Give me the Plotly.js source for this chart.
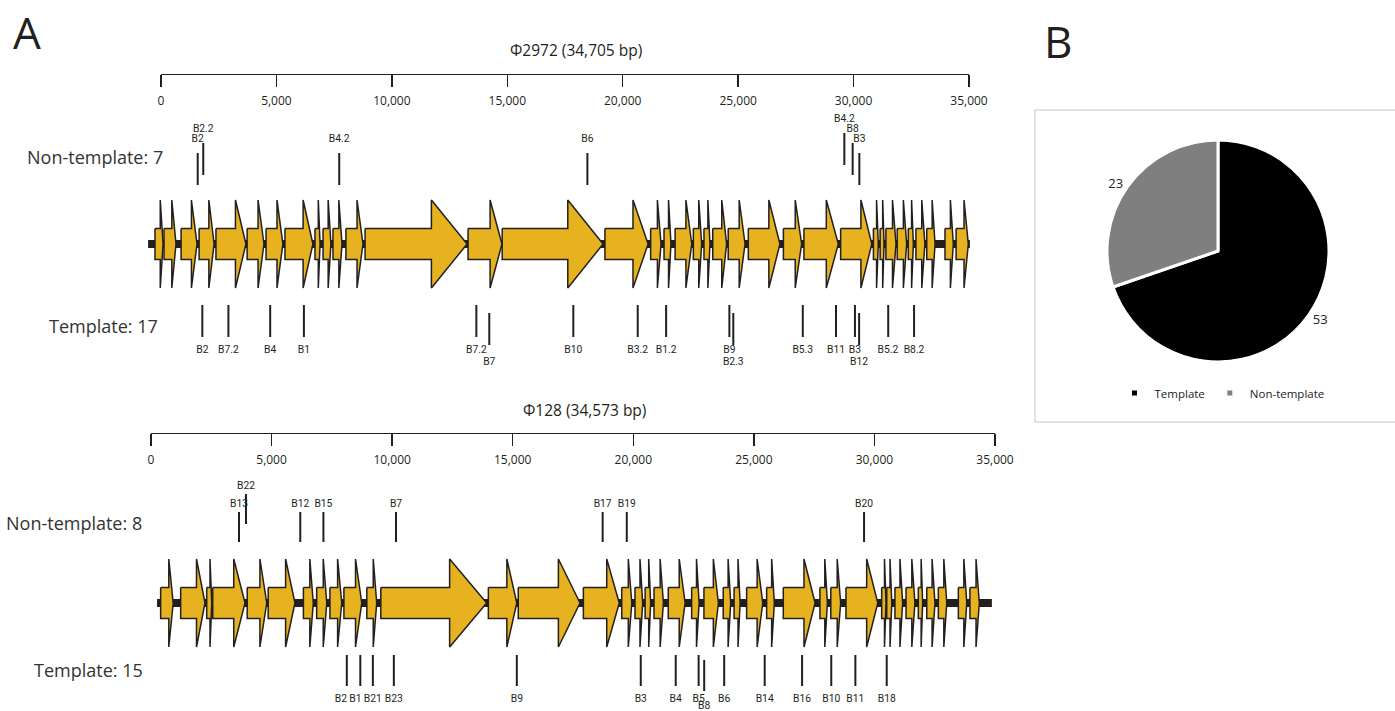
<!DOCTYPE html>
<html><head><meta charset="utf-8">
<script src="https://cdn.plot.ly/plotly-3.0.1.min.js"></script>
<style>html,body{margin:0;padding:0;background:#fff}#chart{width:1395px;height:711px}</style>
</head><body><div id="chart"></div>
<script>
// ---------------- DATA ----------------
const phageNames = ['Φ2972', 'Φ128'];
const genomeLengths = [34705, 34573];
const backbone2972 = [-560, 35040];
const backbone128 = [250, 34870];

const phi2972GeneStart = [-260,130,870,1650,2380,3730,4550,5370,6670,7020,7450,8010,8840,13300,14780,19230,21210,21790,22270,23060,23520,23900,24570,25440,26960,27850,29440,30860,31150,31400,31890,32370,32700,33170,33960,34440];
const phi2972GeneEnd   = [90,650,1560,2300,3680,4460,5280,6580,6890,7360,7840,8750,13260,14770,19150,21100,21660,22090,22990,23420,23780,24500,25300,26810,27750,29340,30790,31070,31320,31840,32300,32590,33090,33530,34320,34970];

const phi128GeneStart = [400,1230,2310,2560,3990,4860,6320,6870,7420,8000,8950,9530,13990,15230,17930,19520,20070,20490,20860,21450,22420,22930,23730,24180,24700,25530,26220,27740,28190,28820,30300,30510,30850,31310,31820,32170,32650,33480,33960];
const phi128GeneEnd   = [920,2240,2520,3900,4800,5970,6730,7290,7910,8740,9360,13920,15170,17790,19420,19940,20390,20720,21250,22150,22730,23530,24040,24430,25370,25850,27540,28050,28600,30140,30480,30720,31170,31680,32000,32510,33000,33830,34350];

const phi2972NonTemplateNames = ['B2','B2.2','B4.2','B6','B4.2','B8','B3'];
const phi2972NonTemplatePos   = [1590,1830,7720,18470,29600,29960,30250];
const phi2972NonTemplateStagger = [0,1,0,0,2,1,0];

const phi2972TemplateNames = ['B2','B7.2','B4','B1','B7.2','B7','B10','B3.2','B1.2','B9','B2.3','B5.3','B11','B3','B12','B5.2','B8.2'];
const phi2972TemplatePos   = [1790,2920,4730,6190,13660,14220,17860,20650,21880,24620,24790,27800,29240,30060,30240,31500,32620];
const phi2972TemplateStagger = [0,0,0,0,0,1,0,0,0,0,1,0,0,0,1,0,0];

const phi128NonTemplateNames = ['B13','B22','B12','B15','B7','B17','B19','B20'];
const phi128NonTemplatePos   = [3650,3940,6190,7150,10160,18730,19730,29570];
const phi128NonTemplateStagger = [0,1,0,0,0,0,0,0];

const phi128TemplateNames = ['B2','B1','B21','B23','B9','B3','B4','B5','B8','B6','B14','B16','B10','B11','B18'];
const phi128TemplatePos   = [8120,8680,9200,10070,15170,20310,21760,22710,22940,23770,25450,27000,28210,29210,30510];
const phi128TemplateStagger = [0,0,0,0,0,0,0,0,1,0,0,0,0,0,0];

const pieLabels = ['Template', 'Non-template'];
const pieValues = [53, 23];

const axisTicks = [0,5000,10000,15000,20000,25000,30000,35000];

// ---------------- LAYOUT HELPERS ----------------
const W = 1395, H = 711;
const INK = '#231F20';
const GOLD = '#E6B21F';
const FONT = 'Open Sans, Noto Sans, sans-serif';
const MARKFONT = 'Roboto, Open Sans, sans-serif';
const MARKSIZE = 10.3;
const fx = p => p / W;
const fy = p => 1 - p / H;

// panel geometry (pixel rows; y axis maps 1:1 to pixels)
const panels = [
  { xa: 'x3', axisPx: [161, 969], axisY: 74, titleX: 576, titleY: 50, track: 244,
    nt: { top: 153, bot: 185, step: 10, labelGap: -14, labelStep: 0 },
    t:  { top: 305, bot: 337, step: 8, labelGap: 13, labelStep: 4 },
    ntLabel: { x: 25, y: 157 }, tLabel: { x: 47, y: 326 } },
  { xa: 'x4', axisPx: [151, 995], axisY: 433, titleX: 584, titleY: 410, track: 603,
    nt: { top: 512, bot: 542, step: 18, labelGap: -8, labelStep: 0 },
    t:  { top: 655, bot: 686, step: 5, labelGap: 13, labelStep: 2 },
    ntLabel: { x: 4, y: 523 }, tLabel: { x: 32, y: 670 } }
];
const BODY = 15.5, HEAD = 44, HEADFRAC = 0.35;

function geneTrace(starts, ends, yc, xa) {
  const xs = [], ys = [];
  for (let i = 0; i < starts.length; i++) {
    const s = starts[i], e = ends[i];
    const hb = e - HEADFRAC * (e - s);
    xs.push(s, hb, hb, e, hb, hb, s, s, null);
    ys.push(yc - BODY, yc - BODY, yc - HEAD, yc, yc + HEAD, yc + BODY, yc + BODY, yc - BODY, null);
  }
  return { type: 'scatter', mode: 'lines', x: xs, y: ys, xaxis: xa, yaxis: 'y',
    fill: 'toself', fillcolor: GOLD, line: { color: INK, width: 1.5 },
    showlegend: false, hoverinfo: 'skip' };
}
function backboneTrace(ext, yc, xa) {
  return { type: 'scatter', mode: 'lines', x: ext, y: [yc, yc], xaxis: xa, yaxis: 'y',
    line: { color: INK, width: 8 }, showlegend: false, hoverinfo: 'skip' };
}
// label anchors: start at the mark, then push crowded labels of the same row leftwards
function labelAnchors(names, pos, stagger, bpPerPx) {
  const lx = pos.slice();
  const widthBp = n => (n.length * MARKSIZE * 0.56 + 1) * bpPerPx;
  for (let i = pos.length - 2; i >= 0; i--) {
    for (let j = i + 1; j < pos.length; j++) {
      if (stagger[j] !== stagger[i]) continue;
      const maxRight = lx[j] - widthBp(names[j]) / 2 - 2 * bpPerPx;
      const right = lx[i] + widthBp(names[i]) / 2;
      if (right > maxRight) lx[i] -= right - maxRight;
      break;
    }
  }
  return lx;
}
function markTraces(names, pos, stagger, g, above, xa, bpPerPx) {
  const xs = [], ys = [], ly = [];
  for (let i = 0; i < pos.length; i++) {
    const dir = above ? -1 : 1;
    const off = dir * stagger[i] * g.step;
    const t = g.top + off, b = g.bot + off;
    xs.push(pos[i], pos[i], null); ys.push(t, b, null);
    ly.push((above ? t + g.labelGap : b + g.labelGap) + dir * stagger[i] * g.labelStep);
  }
  return [
    { type: 'scatter', mode: 'lines', x: xs, y: ys, xaxis: xa, yaxis: 'y',
      line: { color: INK, width: 2 }, showlegend: false, hoverinfo: 'skip' },
    { type: 'scatter', mode: 'text', x: labelAnchors(names, pos, stagger, bpPerPx), y: ly, text: names,
      xaxis: xa, yaxis: 'y', textposition: 'middle center', cliponaxis: false,
      textfont: { family: MARKFONT, size: MARKSIZE, color: INK }, showlegend: false, hoverinfo: 'skip' }
  ];
}

const traces = [];
const geneSets = [[phi2972GeneStart, phi2972GeneEnd, backbone2972], [phi128GeneStart, phi128GeneEnd, backbone128]];
const ntSets = [[phi2972NonTemplateNames, phi2972NonTemplatePos, phi2972NonTemplateStagger], [phi128NonTemplateNames, phi128NonTemplatePos, phi128NonTemplateStagger]];
const tSets = [[phi2972TemplateNames, phi2972TemplatePos, phi2972TemplateStagger], [phi128TemplateNames, phi128TemplatePos, phi128TemplateStagger]];

panels.forEach((p, k) => {
  const bpPerPx = 35000 / (p.axisPx[1] - p.axisPx[0]);
  traces.push(backboneTrace(geneSets[k][2], p.track, p.xa));
  traces.push(geneTrace(geneSets[k][0], geneSets[k][1], p.track, p.xa));
  traces.push(...markTraces(ntSets[k][0], ntSets[k][1], ntSets[k][2], p.nt, true, p.xa, bpPerPx));
  traces.push(...markTraces(tSets[k][0], tSets[k][1], tSets[k][2], p.t, false, p.xa, bpPerPx));
});
// placeholders to activate visible ruler axes
traces.push({ type: 'scatter', mode: 'markers', x: [0, 35000], y: [null, null], xaxis: 'x', yaxis: 'y', showlegend: false, hoverinfo: 'skip' });
traces.push({ type: 'scatter', mode: 'markers', x: [0, 35000], y: [null, null], xaxis: 'x2', yaxis: 'y', showlegend: false, hoverinfo: 'skip' });

// pie
const pieColors = ['#000000', '#7F7F7F'];
traces.push({ type: 'pie', labels: pieLabels, values: pieValues, sort: false,
  direction: 'clockwise', rotation: 0,
  marker: { colors: pieColors, line: { color: '#ffffff', width: 3 } },
  textinfo: 'value', textposition: 'outside',
  textfont: { family: FONT, size: 13, color: '#222' },
  domain: { x: [fx(1107), fx(1329)], y: [fy(362), fy(140)] },
  showlegend: false, hoverinfo: 'skip' });
// legend entries for the pie
pieLabels.forEach((lab, i) => traces.push({ type: 'scatter', mode: 'markers', x: [null], y: [null],
  xaxis: 'x', yaxis: 'y', name: lab, marker: { symbol: 'square', size: 5, color: pieColors[i] },
  showlegend: true, hoverinfo: 'skip' }));

function drawDomain(axisPx) {
  const pxPerBp = (axisPx[1] - axisPx[0]) / 35000;
  return [fx(axisPx[0] - 1000 * pxPerBp), fx(axisPx[0] + 36000 * pxPerBp)];
}
function ruler(p) {
  return { domain: [fx(p.axisPx[0]), fx(p.axisPx[1])], range: [0, 35000], anchor: 'free', position: fy(p.axisY),
    side: 'bottom', showline: true, linecolor: INK, linewidth: 1.3, ticks: 'outside', ticklen: 12,
    tickwidth: 1.3, tickcolor: INK, tickvals: axisTicks, tickformat: ',', showgrid: false, zeroline: false,
    tickfont: { family: FONT, size: 12, color: INK }, ticklabelstandoff: 3, fixedrange: true };
}
const hidden = d => ({ domain: d, range: [-1000, 36000], visible: false, fixedrange: true, anchor: 'y' });

const annotations = [];
panels.forEach((p, k) => {
  annotations.push({ xref: 'paper', yref: 'paper', x: fx(p.titleX), y: fy(p.titleY), xanchor: 'center', yanchor: 'middle',
    text: phageNames[k] + ' (' + genomeLengths[k].toLocaleString('en-US') + ' bp)', showarrow: false,
    font: { family: FONT, size: 15.5, color: INK } });
  annotations.push({ xref: 'paper', yref: 'paper', x: fx(p.ntLabel.x), y: fy(p.ntLabel.y), xanchor: 'left', yanchor: 'middle',
    text: 'Non-template: ' + ntSets[k][0].length, showarrow: false, font: { family: FONT, size: 18, color: '#333' } });
  annotations.push({ xref: 'paper', yref: 'paper', x: fx(p.tLabel.x), y: fy(p.tLabel.y), xanchor: 'left', yanchor: 'middle',
    text: 'Template: ' + tSets[k][0].length, showarrow: false, font: { family: FONT, size: 18, color: '#333' } });
});
annotations.push({ xref: 'paper', yref: 'paper', x: fx(27), y: fy(32), xanchor: 'center', yanchor: 'middle',
  text: 'A', showarrow: false, font: { family: FONT, size: 44, color: INK } });
annotations.push({ xref: 'paper', yref: 'paper', x: fx(1058), y: fy(41), xanchor: 'center', yanchor: 'middle',
  text: 'B', showarrow: false, font: { family: FONT, size: 44, color: INK } });

const layout = {
  width: W, height: H, margin: { l: 0, r: 0, t: 0, b: 0 },
  paper_bgcolor: '#ffffff', plot_bgcolor: 'rgba(0,0,0,0)',
  xaxis: ruler(panels[0]), xaxis2: ruler(panels[1]),
  xaxis3: hidden(drawDomain(panels[0].axisPx)), xaxis4: hidden(drawDomain(panels[1].axisPx)),
  yaxis: { domain: [0, 1], range: [H, 0], visible: false, fixedrange: true, anchor: 'x3' },
  showlegend: true,
  legend: { orientation: 'h', x: fx(1222), y: fy(393), xanchor: 'center', yanchor: 'middle',
    font: { family: FONT, size: 11.5, color: '#222' }, bgcolor: 'rgba(0,0,0,0)', itemwidth: 30, tracegroupgap: 0 },
  shapes: [{ type: 'rect', xref: 'paper', yref: 'paper', x0: fx(1035), x1: fx(1400), y0: fy(110), y1: fy(422),
    line: { color: '#D9D9D9', width: 1.5 }, fillcolor: 'rgba(0,0,0,0)' }],
  annotations: annotations,
  hovermode: false
};

Plotly.newPlot('chart', traces, layout, { staticPlot: true, displayModeBar: false });
</script>
</body></html>
